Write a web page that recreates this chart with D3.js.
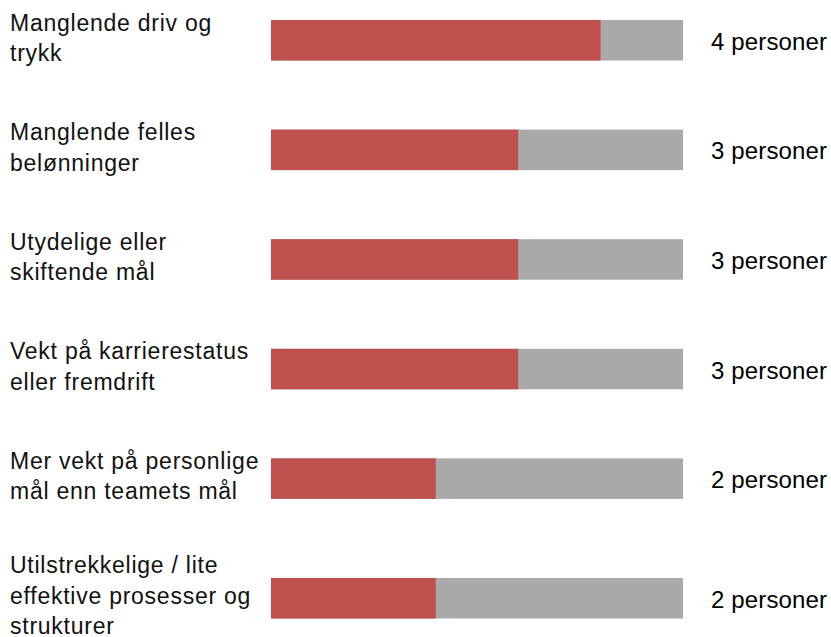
<!DOCTYPE html>
<html>
<head>
	<meta charset="utf-8">
	<title>Personer per årsak</title>
	<script src="https://cdn.jsdelivr.net/npm/d3@7"></script>
	<style>
	body { margin: 0; background: #ffffff; }
	text { font-family: "Liberation Sans", Arial, Helvetica, sans-serif; fill: #111111; }
	.label { font-size: 23px; letter-spacing: 0.75px; }
	.count { font-size: 24px; fill: #000000; letter-spacing: 0.15px; }
	</style>
</head>
<body>
	<svg id="chart"></svg>
	<script>
	// categories (label lines) and values
	var categories = [
		["Manglende driv og", "trykk"],
		["Manglende felles", "belønninger"],
		["Utydelige eller", "skiftende mål"],
		["Vekt på karrierestatus", "eller fremdrift"],
		["Mer vekt på personlige", "mål enn teamets mål"],
		["Utilstrekkelige / lite", "effektive prosesser og", "strukturer"]
	];
	var persons = [4, 3, 3, 3, 2, 2];
	var maxPersons = 5;
	var countLabels = ["4 personer", "3 personer", "3 personer", "3 personer", "2 personer", "2 personer"];

	var width = 831, height = 637;
	var barH = 40.5, lineH = 30.5;

	var svg = d3.select("#chart")
		.attr("width", width)
		.attr("height", height);

	var x = d3.scaleLinear().domain([0, maxPersons]).range([271, 683]);

	var y = d3.scaleBand()
		.domain(d3.range(categories.length))
		.range([20, 20 + 109.6 * categories.length])
		.paddingInner(0);

	// three-line label pushes its row down a bit
	function rowTop(i) {
		return y(i) + (categories[i].length - 2) * 10;
	}

	var rows = svg.selectAll("g.row")
		.data(persons)
		.enter()
		.append("g")
		.attr("class", "row")
		.attr("transform", function(d, i) { return "translate(0," + rowTop(i) + ")"; });

	// gray full bar
	rows.append("rect")
		.attr("x", x(0))
		.attr("y", 0)
		.attr("width", x(maxPersons) - x(0))
		.attr("height", barH)
		.style("fill", "#a9a9a9");

	// red value bar
	rows.append("rect")
		.attr("x", x(0))
		.attr("y", 0)
		.attr("width", function(d) { return x(d) - x(0); })
		.attr("height", barH)
		.style("fill", "#c0504d");

	// left labels
	rows.each(function(d, i) {
		var lines = categories[i];
		var n = lines.length;
		var t = d3.select(this).append("text").attr("class", "label");
		lines.forEach(function(s, k) {
			t.append("tspan")
				.attr("x", 10)
				.attr("y", barH / 2 - 2.5 + (k - (n - 1) / 2) * lineH + 8)
				.text(s);
		});
	});

	// right count labels
	rows.append("text")
		.attr("class", "count")
		.attr("x", 711)
		.attr("y", barH / 2 + 9.5)
		.text(function(d, i) { return countLabels[i]; });
	</script>
</body>
</html>
